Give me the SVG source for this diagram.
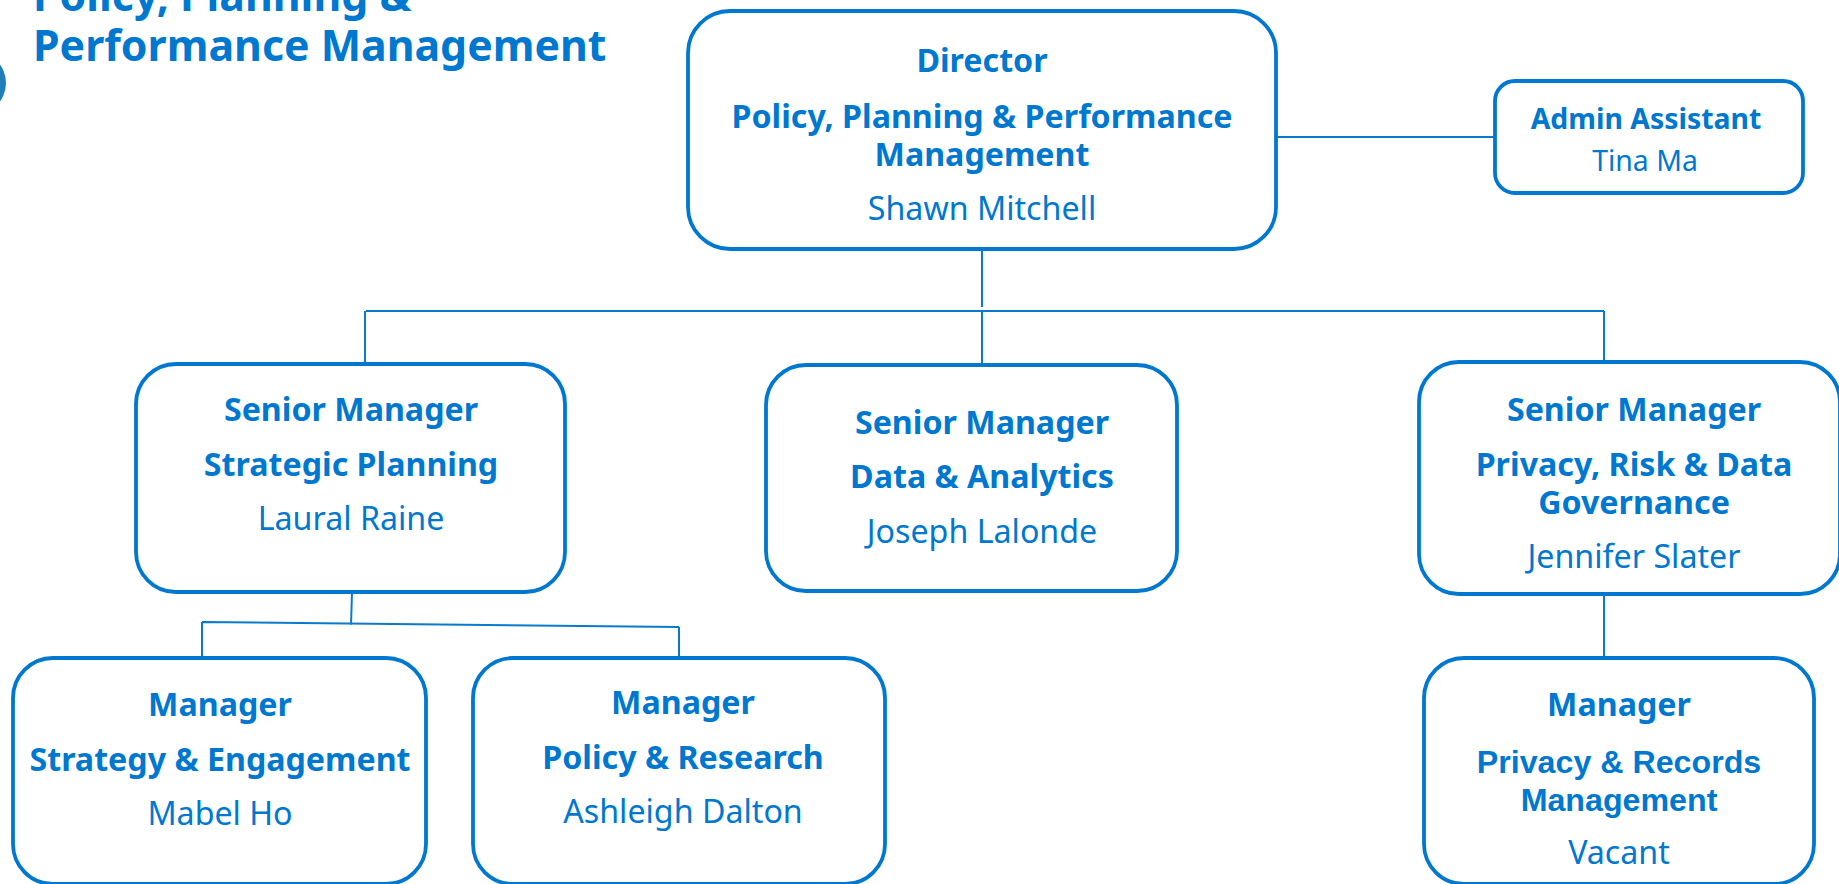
<svg xmlns="http://www.w3.org/2000/svg" width="1839" height="884" viewBox="0 0 1839 884">
<style>
text{font-family:"Noto Sans","Open Sans",sans-serif;fill:#0078cf;text-anchor:middle;font-size:32.2px}
.b{font-weight:700}
.a{font-family:"Liberation Sans",Arial,sans-serif;font-weight:700}
.box{fill:#fff;stroke:#0078cf;stroke-width:3.8}
.c{fill:none;stroke:#0a7bcc;stroke-width:2}
</style>
<rect width="1839" height="884" fill="#fff"/>
<circle id="dot" cx="-25.5" cy="83" r="31.5" fill="#1f7fb8"/>
<g id="title"><text class="b" x="33" y="11" style="text-anchor:start;font-size:42.8px">Policy, Planning &amp;</text>
<text class="b" x="33" y="61" style="text-anchor:start;font-size:42.8px">Performance Management</text></g>
<g id="connectors">
<path class="c" d="M1276 137H1495M982 249V307M366 311H1604M365 311V364M982 311V365M1604 311V362"/>
<path class="c" d="M352 592L351 625M202 622L679 627M202 622V658M679 627V658M1604 595V658"/>
</g>
<g id="director"><rect class="box" x="688" y="11" width="588" height="238" rx="42"/>
<text class="b" x="982" y="72">Director</text><text class="b" x="982" y="128">Policy, Planning &amp; Performance</text><text class="b" x="982" y="166">Management</text><text x="982" y="220">Shawn Mitchell</text></g>
<g id="admin"><rect class="box" x="1495" y="81" width="308" height="112" rx="20"/>
<text class="b" x="1646" y="129" style="font-size:28.4px">Admin Assistant</text><text x="1645" y="171" style="font-size:28.4px">Tina Ma</text></g>
<g id="sm-strategic"><rect class="box" x="136" y="364" width="429" height="228" rx="40"/>
<text class="b" x="351" y="421">Senior Manager</text><text class="b" x="351" y="476">Strategic Planning</text><text x="351" y="530">Laural Raine</text></g>
<g id="sm-data"><rect class="box" x="766" y="365" width="411" height="226" rx="40"/>
<text class="b" x="982" y="434">Senior Manager</text><text class="b" x="982" y="488">Data &amp; Analytics</text><text x="982" y="543">Joseph Lalonde</text></g>
<g id="sm-privacy"><rect class="box" x="1419" y="362" width="421" height="232" rx="40"/>
<text class="b" x="1634" y="421">Senior Manager</text><text class="b" x="1634" y="476">Privacy, Risk &amp; Data</text><text class="b" x="1634" y="514">Governance</text><text x="1634" y="568">Jennifer Slater</text></g>
<g id="m-strategy"><rect class="box" x="13" y="658" width="413" height="226" rx="40"/>
<text class="b" x="220" y="716">Manager</text><text class="b" x="220" y="771">Strategy &amp; Engagement</text><text x="220" y="825">Mabel Ho</text></g>
<g id="m-policy"><rect class="box" x="473" y="658" width="412" height="226" rx="40"/>
<text class="b" x="683" y="714">Manager</text><text class="b" x="683" y="769">Policy &amp; Research</text><text x="683" y="823">Ashleigh Dalton</text></g>
<g id="m-privacy"><rect class="box" x="1424" y="658" width="390" height="226" rx="40"/>
<text class="b" x="1619" y="716">Manager</text><text class="a" x="1619" y="773">Privacy &amp; Records</text><text class="a" x="1619" y="811">Management</text><text x="1619" y="864">Vacant</text></g>
</svg>
